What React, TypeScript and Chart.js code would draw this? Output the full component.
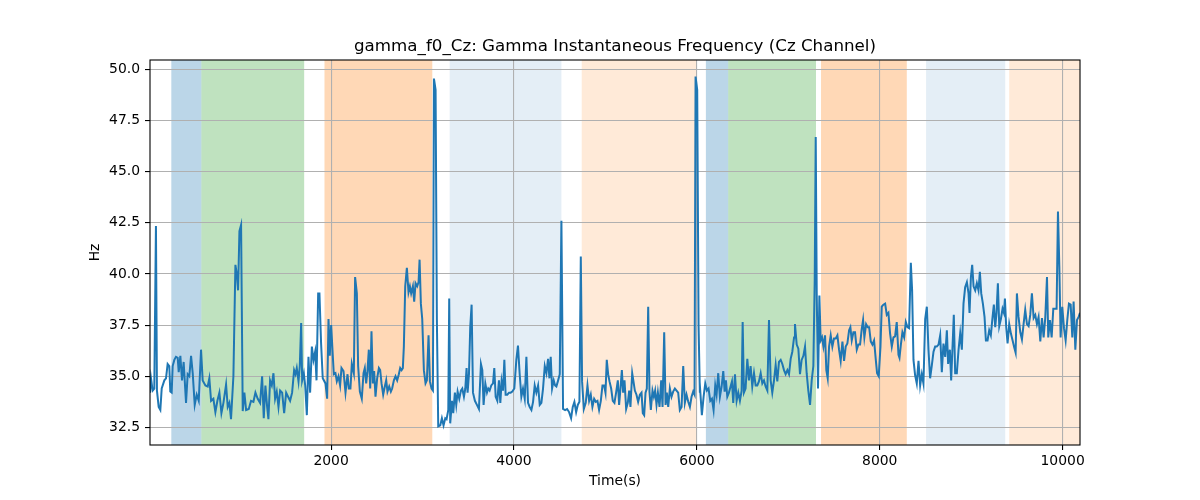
import { useEffect, useRef } from 'react'
import { Chart, registerables } from 'chart.js'

Chart.register(...registerables)

// time axis (s) and gamma instantaneous frequency (Hz)
const timeS = [
  20, 31, 49, 67, 85, 96, 115, 133, 148, 177, 195, 213, 231, 242, 257, 268, 286, 304, 323, 334,
  352, 370, 388, 414, 432, 450, 469, 487, 509, 531, 553, 578, 596, 626, 651, 669, 688, 713, 735, 757,
  779, 801, 823, 852, 870, 888, 906, 932, 954, 969, 983, 998, 1016, 1034, 1052, 1071, 1100, 1125, 1151, 1173,
  1198, 1224, 1246, 1264, 1282, 1301, 1315, 1333, 1352, 1370, 1388, 1406, 1425, 1443, 1465, 1487, 1509, 1530, 1552, 1574,
  1596, 1611, 1625, 1644, 1658, 1673, 1684, 1702, 1717, 1735, 1753, 1771, 1790, 1808, 1826, 1841, 1859, 1873,
  1891, 1909, 1939, 1957, 1972, 1986, 2001, 2019, 2030, 2048, 2063, 2081, 2099, 2114, 2136, 2158, 2180, 2194, 2212, 2227,
  2249, 2263, 2282, 2296, 2315, 2336, 2355, 2369, 2384, 2398, 2413, 2428, 2442, 2457, 2471, 2486, 2504, 2523, 2537, 2552,
  2570, 2588, 2603, 2617, 2636, 2654, 2668, 2687, 2705, 2723, 2741, 2756, 2771, 2785, 2796, 2811, 2829, 2847, 2862, 2876,
  2895, 2909, 2924, 2942, 2957, 2968, 2982, 2997, 3015, 3033, 3048, 3066, 3081, 3099, 3114, 3125, 3143, 3157, 3172, 3194,
  3212, 3230, 3249, 3263, 3282, 3292, 3303, 3322, 3336, 3354, 3369, 3384, 3402, 3420, 3435, 3453, 3468, 3482, 3493, 3508,
  3522, 3537, 3552, 3573, 3595, 3617, 3639, 3654, 3668, 3687, 3705, 3719, 3734, 3752, 3771, 3785, 3800, 3818, 3836, 3851,
  3865, 3880, 3895, 3909, 3927, 3946, 3964, 3982, 4004, 4026, 4044, 4062,
  4081, 4099, 4118, 4136, 4154, 4172, 4191, 4209, 4227, 4245, 4264, 4282, 4300, 4318, 4337, 4355, 4373, 4388, 4402, 4417,
  4435, 4450, 4464, 4483, 4501, 4519, 4537, 4559, 4581, 4603, 4625, 4643, 4661, 4680, 4698, 4716, 4731, 4745, 4764, 4785,
  4804, 4822, 4840, 4858, 4877, 4895, 4913, 4931, 4950, 4968, 4986, 5001, 5015, 5030, 5045, 5063, 5081, 5099, 5117, 5136,
  5150, 5165, 5180, 5194, 5209, 5227, 5245, 5260, 5274, 5293, 5307, 5322, 5340, 5358, 5377, 5395, 5409, 5424, 5439, 5453,
  5468, 5482, 5497, 5515, 5530, 5544, 5559, 5574, 5592, 5610, 5625, 5643, 5658, 5672, 5687, 5705, 5723, 5741, 5760, 5778,
  5796, 5814, 5833, 5851, 5869, 5887, 5906, 5924, 5942, 5960, 5975, 5986, 6004, 6019, 6033,
  6037, 6055, 6074, 6092, 6110, 6128, 6147, 6165, 6183, 6201, 6216, 6234, 6252, 6271, 6289, 6304, 6318, 6333, 6351, 6369,
  6384, 6398, 6417, 6435, 6453, 6471, 6490, 6501, 6515, 6533, 6552, 6570, 6588, 6606, 6625, 6643, 6661, 6679, 6698, 6716,
  6734, 6752, 6771, 6789, 6807, 6825, 6844, 6862, 6880, 6898, 6917, 6935, 6953, 6971, 6990, 7008, 7026, 7044, 7063, 7073,
  7092, 7110, 7128, 7146, 7165, 7183, 7201, 7219, 7238, 7256, 7274, 7289, 7300, 7311, 7325, 7340, 7354, 7369, 7384, 7402,
  7416, 7431, 7446, 7464, 7482, 7500, 7519, 7537, 7555, 7573, 7592, 7610, 7628, 7646, 7665, 7679, 7694, 7712, 7730, 7749,
  7767, 7785, 7803, 7818, 7832, 7851, 7869, 7884, 7902, 7920, 7938, 7957, 7971, 7989, 8008, 8022, 8040, 8059, 8077, 8095,
  8113,
  8132, 8150, 8168, 8186, 8205, 8216, 8230, 8248, 8267, 8285, 8303, 8321, 8340, 8354, 8369, 8387, 8405, 8424, 8442, 8460,
  8478, 8497, 8515, 8533, 8551, 8570, 8588, 8606, 8624, 8643, 8661, 8679, 8697, 8716, 8734, 8748, 8767, 8781, 8796, 8810,
  8825, 8843, 8862, 8880, 8898, 8916, 8934, 8953, 8971, 8982, 8997, 9011, 9026, 9044, 9062, 9080, 9095, 9110, 9128, 9146,
  9161, 9179, 9197, 9215, 9234, 9248, 9263, 9277, 9292, 9307, 9325, 9343, 9358, 9369, 9383, 9398, 9416, 9434, 9453, 9471,
  9486, 9500, 9518, 9537, 9555, 9573, 9591, 9610, 9628, 9646, 9664, 9683, 9701, 9719, 9737, 9756, 9774, 9792, 9810, 9829,
  9843, 9861, 9880, 9898, 9916, 9934, 9949, 9964, 9978, 9996, 10015, 10033, 10051, 10069, 10088, 10106, 10120, 10139, 10157, 10175,
  10190,
]

const gammaHz = [
  34.2, 34.9, 34.3, 34.4, 42.35, 34.3, 33.5, 33.35, 34.4, 34.8, 34.9, 35.6, 35.5, 34.25, 34.2, 35.5, 35.8, 35.95, 35.9, 35.2,
  36.0, 34.8, 35.7, 33.7, 35.1, 35.0, 36.0, 35.15, 33.6, 34.1, 33.8, 36.3, 34.8, 34.55, 34.5, 34.9, 33.8, 33.9, 33.25, 33.8,
  34.2, 33.2, 33.7, 34.6, 33.5, 33.7, 32.9, 35.0, 40.45, 40.0, 39.2, 42.1, 42.4, 33.3, 34.2, 33.35, 33.4, 33.8, 33.75, 34.2,
  33.9, 33.7, 35.0, 32.95, 34.55, 33.5, 32.9, 34.8, 34.55, 35.15, 33.9, 34.25, 33.5, 34.3, 34.2, 33.2, 34.2, 34.0, 33.8, 34.2,
  35.3, 35.1, 35.4, 34.75, 35.5, 37.6, 34.8, 35.15, 34.55, 33.1, 35.95, 34.2, 36.45, 35.8, 36.2, 34.8, 39.05, 39.05,
  36.6, 34.9, 34.65, 33.9, 37.8, 36.0, 37.5, 36.0, 35.1, 35.15, 34.75, 35.0, 34.55, 35.4, 35.25, 34.2, 35.1, 34.4, 34.4, 35.6,
  35.15, 39.85, 39.05, 35.5, 34.25, 33.9, 35.15, 35.4, 34.65, 35.25, 36.3, 34.4, 37.2, 34.65, 35.25, 34.0, 34.9, 35.4, 35.3, 34.65,
  34.1, 34.5, 34.8, 34.25, 34.5, 34.25, 34.4, 34.8, 35.0, 34.8, 35.1, 35.4, 35.3, 35.4, 36.45, 39.4, 40.3, 39.1, 39.4, 39.05,
  39.4, 38.65, 39.55, 39.4, 39.6, 40.7, 38.55, 37.8, 35.3, 34.65, 34.8, 37.0, 34.75, 34.4, 34.3, 49.55, 49.0, 37.8, 32.55, 32.6,
  32.95, 32.6, 32.95, 32.9, 33.35, 38.8, 32.7, 33.8, 33.2, 34.2, 33.6, 34.25, 33.9, 34.3, 34.4, 34.0, 34.4, 35.4, 34.2, 35.1,
  37.4, 38.5, 34.2, 33.8, 33.6, 33.4, 35.6, 35.3, 33.6, 34.65, 34.2, 34.4, 34.3, 34.55, 34.65, 35.4, 34.0, 33.8, 34.8, 33.7,
  34.75, 34.3, 35.8, 34.1, 34.1, 34.2, 34.2, 34.25, 34.4, 35.8, 36.5, 35.15,
  34.0, 34.4, 33.9, 35.95, 33.7, 33.5, 33.35, 33.75, 34.55, 34.2, 34.55, 33.6, 33.7, 34.4, 35.5, 35.15, 35.85, 34.9, 35.95, 34.4,
  34.8, 34.55, 34.5, 34.8, 35.1, 42.6, 33.4, 33.35, 33.4, 33.25, 32.95, 33.5, 33.75, 33.25, 33.6, 33.75, 40.85, 34.75, 33.4, 33.7,
  34.55, 33.8, 34.1, 33.5, 33.9, 33.75, 33.8, 33.35, 33.8, 34.55, 34.55, 34.2, 35.8, 35.1, 34.75, 34.4, 33.8, 33.7, 34.2, 34.8,
  33.6, 34.4, 35.3, 34.2, 34.8, 33.4, 33.7, 34.3, 33.5, 35.15, 34.75, 34.3, 34.1, 33.75, 34.1, 34.2, 33.2, 33.1, 34.2, 34.4,
  38.4, 34.25, 33.35, 34.3, 34.0, 34.3, 33.6, 34.2, 33.5, 34.8, 33.5, 37.15, 33.6, 34.2, 33.5, 34.4, 34.0, 34.25, 34.4, 34.3,
  34.2, 33.35, 33.5, 35.5, 33.7, 34.1, 33.75, 33.5, 34.0, 34.25, 34.1, 49.65, 49.0, 37.45, 34.2,
  34.3, 33.1, 34.0, 34.65, 34.3, 34.4, 33.8, 33.9, 33.35, 34.55, 34.1, 35.15, 34.0, 34.5, 35.25, 34.25, 34.8, 34.0, 34.2, 34.5,
  34.75, 33.7, 35.1, 33.8, 34.2, 33.8, 34.3, 37.65, 34.2, 34.4, 35.85, 34.8, 35.5, 34.5, 35.15, 34.55, 34.55, 34.75, 35.15, 34.65,
  34.8, 34.5, 34.3, 37.75, 34.8, 34.2, 34.8, 35.55, 34.75, 35.7, 35.8, 35.6, 35.3, 35.1, 35.3, 35.1, 35.85, 36.2, 36.9, 37.55,
  36.55, 36.35, 35.1, 35.8, 36.0, 36.45, 35.15, 34.3, 33.6, 34.8, 35.5, 39.7, 46.7, 39.05, 34.4, 38.95, 36.75, 36.9, 36.45, 37.0,
  35.3, 34.9, 36.45, 37.0, 36.45, 36.85, 36.85, 37.0, 36.3, 35.75, 36.7, 35.75, 36.45, 36.6, 37.25, 37.4, 36.75, 37.15, 37.15, 36.3,
  36.55, 36.55, 37.3, 37.75, 36.9, 37.55, 37.4, 37.4, 36.7, 36.55, 36.75, 35.8, 35.15, 35.0, 36.45, 38.4, 38.5, 38.55, 38.0, 38.1,
  37.1,
  36.45, 36.9, 36.95, 37.65, 36.05, 35.9, 36.5, 37.15, 36.9, 37.65, 37.4, 37.35, 40.55, 39.2, 35.8, 35.05, 34.65, 35.75, 34.55, 35.1,
  34.65, 37.8, 38.4, 36.3, 34.9, 35.55, 36.2, 36.45, 36.45, 36.55, 37.0, 35.2, 36.6, 35.95, 37.25, 35.6, 36.3, 34.8, 36.45, 38.0,
  35.15, 35.15, 36.3, 37.1, 36.3, 38.55, 39.35, 39.6, 39.05, 38.1, 39.85, 40.45, 39.4, 39.2, 39.55, 39.2, 40.1, 39.05, 38.55, 37.9,
  36.75, 36.75, 37.25, 37.0, 37.9, 38.5, 37.4, 38.1, 39.55, 37.45, 37.8, 38.3, 38.1, 38.8, 37.4, 36.6, 37.55, 37.1, 36.75, 36.4,
  36.15, 39.05, 37.9, 37.15, 36.8, 37.55, 38.25, 37.55, 37.45, 38.0, 39.05, 37.85, 38.0, 37.55, 37.9, 36.7, 37.85, 36.9, 37.85, 39.85,
  36.9, 37.75, 36.9, 38.3, 38.3, 38.3, 43.05, 40.35, 36.9, 38.4, 37.35, 36.75, 37.75, 38.55, 38.5, 36.9, 38.65, 36.3, 37.75, 37.9,
  38.1,
]

// shaded task segments (s)
const spanStart = [253, 582, 1928, 3297, 4741, 6099, 6343, 7358, 8507, 9416]
const spanEnd = [582, 1706, 3107, 4519, 5993, 6343, 7303, 8296, 9372, 10400]
const spanColor = [
  'rgba(31, 119, 180, 0.3)',
  'rgba(44, 160, 44, 0.3)',
  'rgba(255, 127, 14, 0.3)',
  'rgba(31, 119, 180, 0.12)',
  'rgba(255, 127, 14, 0.16)',
  'rgba(31, 119, 180, 0.3)',
  'rgba(44, 160, 44, 0.3)',
  'rgba(255, 127, 14, 0.3)',
  'rgba(31, 119, 180, 0.12)',
  'rgba(255, 127, 14, 0.16)',
]

const xTickValues = [2000, 4000, 6000, 8000, 10000]
const yTickValues = [32.5, 35.0, 37.5, 40.0, 42.5, 45.0, 47.5, 50.0]

const titleText = 'gamma_f0_Cz: Gamma Instantaneous Frequency (Cz Channel)'
const font = 'DejaVu Sans'

const spansPlugin = {
  id: 'spans',
  beforeDraw: (chart: any) => {
    const { ctx, chartArea, scales } = chart
    ctx.save()
    ctx.beginPath()
    ctx.rect(chartArea.left, chartArea.top, chartArea.right - chartArea.left, chartArea.bottom - chartArea.top)
    ctx.clip()
    spanStart.forEach((s, i) => {
      const x0 = scales.x.getPixelForValue(s)
      const x1 = scales.x.getPixelForValue(spanEnd[i])
      ctx.fillStyle = spanColor[i]
      ctx.fillRect(x0, chartArea.top, x1 - x0, chartArea.bottom - chartArea.top)
    })
    ctx.restore()
  },
}

const framePlugin = {
  id: 'frame',
  afterDraw: (chart: any) => {
    const { ctx, chartArea } = chart
    ctx.save()
    ctx.strokeStyle = '#000'
    ctx.lineWidth = 1.1
    ctx.strokeRect(chartArea.left, chartArea.top, chartArea.right - chartArea.left, chartArea.bottom - chartArea.top)
    // title centred over the axes, like matplotlib
    ctx.fillStyle = '#000'
    ctx.font = `16.7px "${font}"`
    ctx.textAlign = 'center'
    ctx.textBaseline = 'middle'
    ctx.fillText(titleText, (chartArea.left + chartArea.right) / 2, 47)
    ctx.restore()
  },
}

const GammaChart = () => {
  const chartRef = useRef<HTMLCanvasElement>(null)
  const chartInstance = useRef<Chart | null>(null)

  useEffect(() => {
    if (!chartRef.current) return
    if (chartInstance.current) chartInstance.current.destroy()

    chartInstance.current = new Chart(chartRef.current, {
      type: 'line',
      data: {
        datasets: [
          {
            label: 'gamma_f0_Cz',
            data: timeS.map((t, i) => ({ x: t, y: gammaHz[i] })),
            borderColor: '#1f77b4',
            borderWidth: 2,
            pointRadius: 0,
            tension: 0,
            fill: false,
          },
        ],
      },
      options: {
        animation: false,
        responsive: true,
        maintainAspectRatio: false,
        layout: { padding: { top: 60, right: 120, left: 0, bottom: 0 } },
        plugins: {
          legend: { display: false },
          title: { display: false },
          tooltip: { enabled: false },
        },
        scales: {
          x: {
            type: 'linear',
            min: 20,
            max: 10190,
            afterFit: (s: any) => {
              s.height = 55
            },
            afterBuildTicks: (s: any) => {
              s.ticks = xTickValues.map((v) => ({ value: v }))
            },
            grid: { color: '#b0b0b0', lineWidth: 1.1, tickColor: '#000', tickLength: 5, tickWidth: 1.1 },
            border: { display: false },
            ticks: {
              autoSkip: false,
              maxRotation: 0,
              padding: 3,
              color: '#000',
              font: { family: font, size: 13.9 },
              callback: (v: any) => String(v),
            },
            title: {
              display: true,
              text: 'Time(s)',
              color: '#000',
              font: { family: font, size: 13.9 },
              padding: { top: 0, bottom: 10.5 },
            },
          },
          y: {
            min: 31.64,
            max: 50.46,
            afterFit: (s: any) => {
              s.width = 150
            },
            afterBuildTicks: (s: any) => {
              s.ticks = yTickValues.map((v) => ({ value: v }))
            },
            grid: { color: '#b0b0b0', lineWidth: 1.1, tickColor: '#000', tickLength: 5, tickWidth: 1.1 },
            border: { display: false },
            ticks: {
              autoSkip: false,
              padding: 5,
              color: '#000',
              font: { family: font, size: 13.9 },
              callback: (v: any) => Number(v).toFixed(1),
            },
            title: {
              display: true,
              text: 'Hz',
              color: '#000',
              font: { family: font, size: 13.9 },
              padding: { top: 87.5, bottom: 0 },
            },
          },
        },
      },
      plugins: [spansPlugin, framePlugin],
    })

    return () => {
      if (chartInstance.current) {
        chartInstance.current.destroy()
        chartInstance.current = null
      }
    }
  }, [])

  return (
    <div style={{ position: 'fixed', left: 0, top: 0, width: 1200, height: 500, background: '#fff' }}>
      <canvas ref={chartRef}></canvas>
    </div>
  )
}

export default function App() {
  return <GammaChart />
}
